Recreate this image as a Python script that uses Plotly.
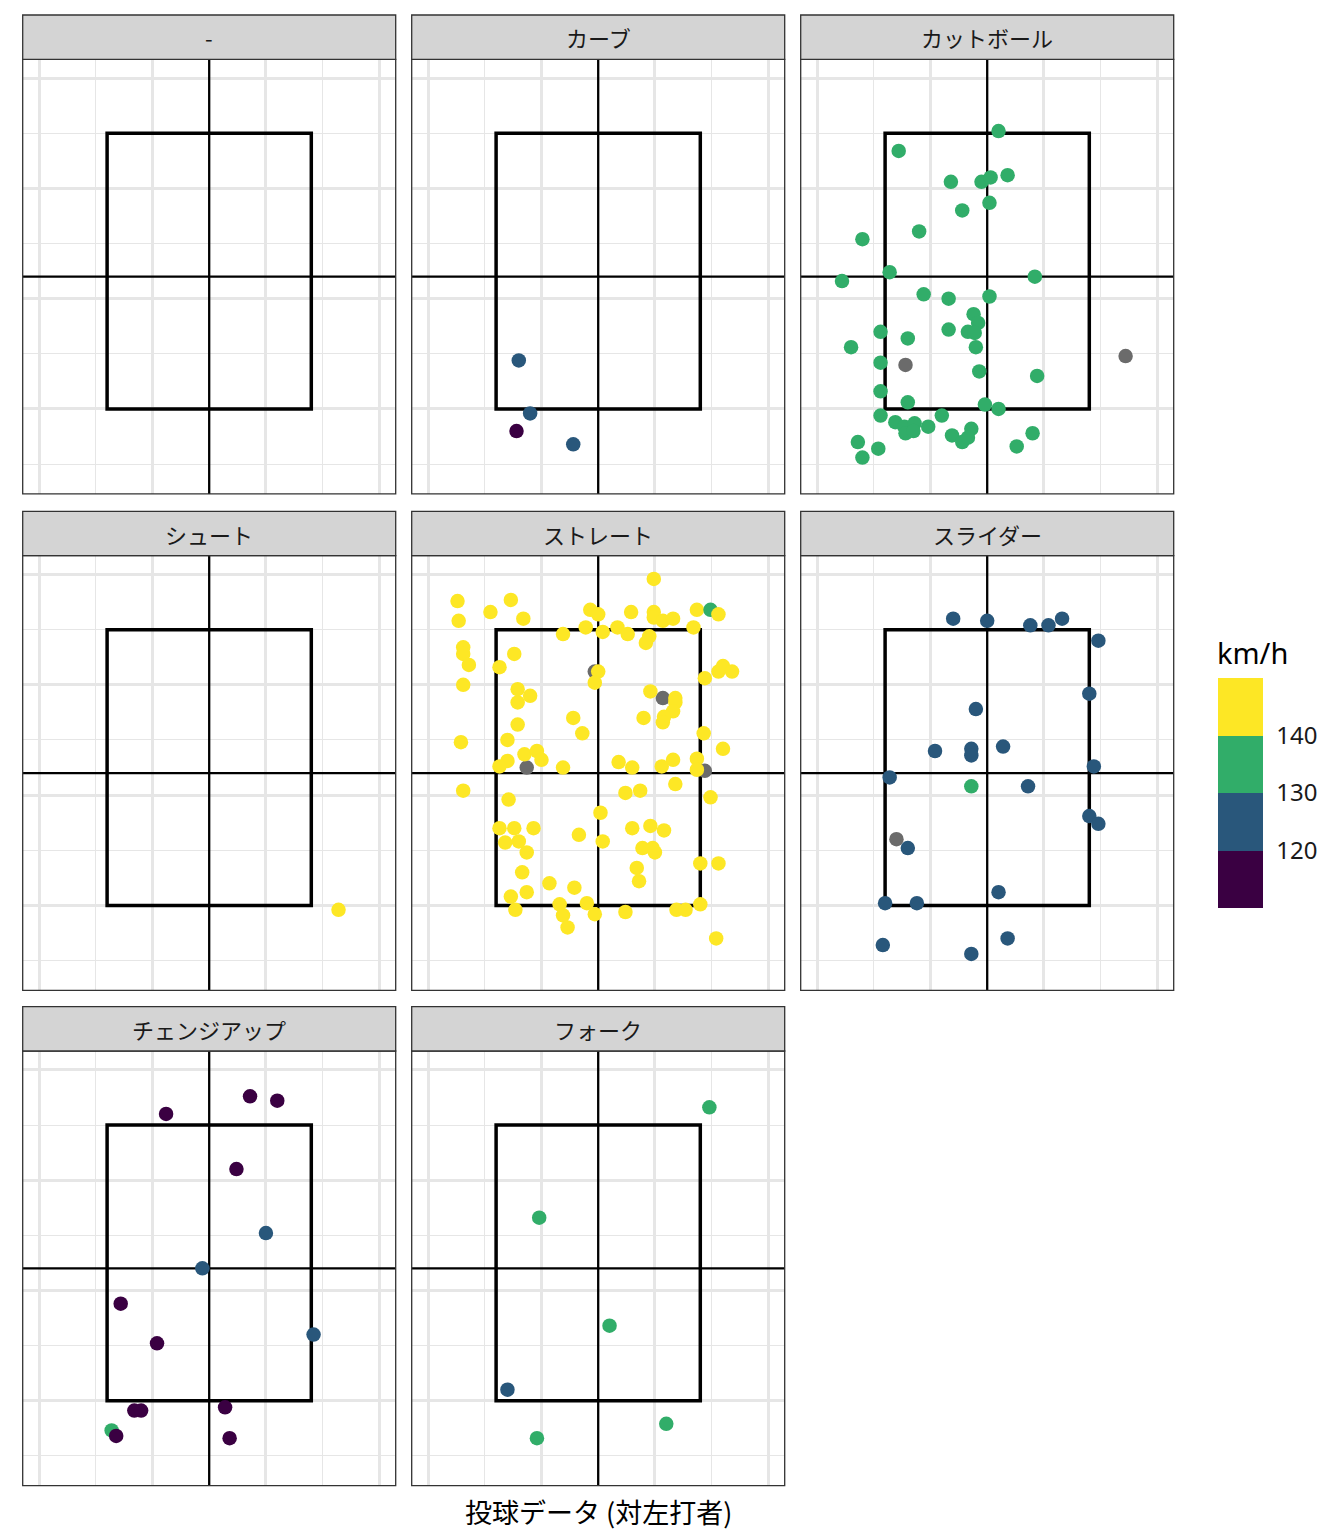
import plotly.graph_objects as go

# ---------------- data ----------------
PITCH_TYPES = ["-", "カーブ", "カットボール", "シュート", "ストレート", "スライダー", "チェンジアップ", "フォーク"]

# km/h values (None = missing speed, drawn grey)
DASH_X, DASH_Y, DASH_KMH = [], [], []

CURVE_X = [-0.70, -0.60, -0.72, -0.22]
CURVE_Y = [1.44, 0.96, 0.80, 0.68]
CURVE_KMH = [125, 125, 115, 125]

CUTTER_X = [0.10, -0.78, -0.32, -0.05, 0.03, 0.18, 0.02, -0.22, -0.60, -1.10,
            -0.86, -1.28, 0.42, -0.56, -0.34, 0.02, -0.12, -0.08, -0.17, -0.11,
            -0.34, -0.10, -0.94, -0.70, -1.20, -0.94, -0.07, 0.44, -0.94, -0.70,
            -0.02, 0.10, -0.94, -0.40, -0.81, -0.73, -0.64, -0.72, -0.65, -0.52,
            -0.31, -0.14, -0.22, -0.17, 0.40, 0.26, -1.14, -0.96, -1.10,
            -0.72, 1.22]
CUTTER_Y = [3.52, 3.34, 3.06, 3.06, 3.10, 3.12, 2.87, 2.80, 2.61, 2.54,
            2.24, 2.16, 2.20, 2.04, 2.00, 2.02, 1.86, 1.78, 1.70, 1.69,
            1.72, 1.56, 1.70, 1.64, 1.56, 1.42, 1.34, 1.30, 1.16, 1.06,
            1.04, 1.00, 0.94, 0.94, 0.88, 0.84, 0.87, 0.78, 0.80, 0.84,
            0.76, 0.82, 0.70, 0.74, 0.78, 0.66, 0.70, 0.64, 0.56,
            1.40, 1.48]
CUTTER_KMH = [135] * 49 + [None, None]

SHOOT_X = [1.14]
SHOOT_Y = [0.96]
SHOOT_KMH = [145]

STRAIGHT_X = [0.49, -1.24, -0.77, -1.23, -0.95, -0.66, -0.07, 0.00, 0.29, 0.49,
              0.49, 0.57, 0.66, 0.87, 0.99, 1.06, 0.84, -0.11, 0.04, 0.17,
              0.26, -0.31, 0.45, 0.42, -1.19, -1.19, -1.14, -0.74, -0.87, -1.19,
              -0.03, 0.00, -0.03, 0.94, 1.06, 1.10, 1.18, -0.71, -0.60, -0.71,
              0.46, 0.57, 0.68, 0.68, 0.66, 0.58, 0.57, 0.40, -0.22, -0.14,
              -0.71, -0.80, -1.21, 0.93, 1.10, -0.65, -0.54, -0.50, -0.80, -0.87,
              -0.63, -0.31, 0.18, 0.30, 0.56, 0.66, 0.87, 0.87, 0.94, -1.19,
              -0.79, 0.24, 0.37, 0.68, 0.99, 0.02, -0.87, -0.74, -0.57, -0.82,
              -0.70, -0.63, -0.17, 0.04, 0.30, 0.46, 0.58, 0.39, 0.48, 0.50,
              0.34, 0.36, 0.90, 1.06, -0.67, -0.43, -0.21, -0.63, -0.77, -0.73,
              -0.34, -0.31, -0.27, -0.10, -0.03, 0.24, 0.69, 0.77, 0.90, 1.04]
STRAIGHT_Y = [3.96, 3.76, 3.77, 3.58, 3.66, 3.60, 3.68, 3.64, 3.66, 3.66,
              3.61, 3.58, 3.60, 3.68, 3.68, 3.64, 3.52, 3.52, 3.48, 3.52,
              3.46, 3.46, 3.44, 3.38, 3.34, 3.28, 3.18, 3.28, 3.16, 3.00,
              3.12, 3.12, 3.02, 3.06, 3.12, 3.17, 3.12, 2.96, 2.90, 2.84,
              2.94, 2.88, 2.88, 2.84, 2.76, 2.71, 2.66, 2.70, 2.70, 2.56,
              2.64, 2.50, 2.48, 2.56, 2.42, 2.37, 2.40, 2.32, 2.31, 2.26,
              2.25, 2.25, 2.30, 2.25, 2.26, 2.32, 2.33, 2.23, 2.22, 2.04,
              1.96, 2.02, 2.04, 2.10, 1.98, 1.84, 1.70, 1.70, 1.70, 1.57,
              1.58, 1.48, 1.64, 1.58, 1.70, 1.72, 1.68, 1.52, 1.52, 1.48,
              1.34, 1.22, 1.38, 1.38, 1.30, 1.20, 1.16, 1.12, 1.08, 0.96,
              1.01, 0.91, 0.80, 1.02, 0.92, 0.94, 0.96, 0.96, 1.01, 0.70]
STRAIGHT_KMH = [145] * 14 + [135] + [145] * 15 + [None] + [145] * 10 + [None] + [145] * 18 + [None] \
    + [145] * 7 + [None] + [145] * 41

SLIDER_X = [-0.30, 0.00, 0.38, 0.54, 0.66, 0.98, 0.90, -0.10, -0.46, -0.14,
            -0.14, 0.14, 0.94, -0.86, 0.36, 0.90, 0.98, -0.70, 0.10, -0.90,
            -0.62, -0.92, 0.18, -0.14, -0.14, -0.80]
SLIDER_Y = [3.60, 3.58, 3.54, 3.54, 3.60, 3.40, 2.92, 2.78, 2.40, 2.42,
            2.36, 2.44, 2.26, 2.16, 2.08, 1.81, 1.74, 1.52, 1.12, 1.02,
            1.02, 0.64, 0.70, 0.56, 2.08, 1.60]
SLIDER_KMH = [125] * 24 + [135, None]

CHANGEUP_X = [-0.38, 0.36, 0.60, 0.24, 0.50, -0.06, -0.78, -0.46, 0.92, -0.66,
              -0.60, 0.14, -0.86, -0.82, 0.18]
CHANGEUP_Y = [3.60, 3.76, 3.72, 3.10, 2.52, 2.20, 1.88, 1.52, 1.60, 0.91,
              0.91, 0.94, 0.73, 0.68, 0.66]
CHANGEUP_KMH = [115, 115, 115, 115, 125, 125, 115, 115, 125, 115,
                115, 115, 135, 115, 115]

FORK_X = [0.98, -0.52, 0.10, -0.80, -0.54, 0.60]
FORK_Y = [3.66, 2.66, 1.68, 1.10, 0.66, 0.79]
FORK_KMH = [135, 135, 135, 125, 135, 135]

PANEL_X = [DASH_X, CURVE_X, CUTTER_X, SHOOT_X, STRAIGHT_X, SLIDER_X, CHANGEUP_X, FORK_X]
PANEL_Y = [DASH_Y, CURVE_Y, CUTTER_Y, SHOOT_Y, STRAIGHT_Y, SLIDER_Y, CHANGEUP_Y, FORK_Y]
PANEL_KMH = [DASH_KMH, CURVE_KMH, CUTTER_KMH, SHOOT_KMH, STRAIGHT_KMH, SLIDER_KMH, CHANGEUP_KMH, FORK_KMH]

SPEED_BREAKS = [120, 130, 140]
SPEED_RANGE = [110, 150]

# reference geometry (data units)
ZONE_X = [-0.9, 0.9]
ZONE_Y = [1.0, 3.5]
CENTER_X = 0.0
CENTER_Y = 2.2
X_RANGE = [-1.644, 1.644]
Y_RANGE = [0.230, 4.171]
X_MAJOR = [-1.5, -0.5, 0.5, 1.5]
X_MINOR = [-1.0, 0.0, 1.0]
Y_MAJOR = [1, 2, 3, 4]
Y_MINOR = [0.5, 1.5, 2.5, 3.5]

# ---------------- style / layout ----------------
W, H = 1344, 1536
PANEL_LEFT = [22.7, 411.7, 800.7]
PANEL_TOP = [59.3, 555.7, 1051.0]
PANEL_W = 373.0
PANEL_H = 434.6
STRIP_H = 44.3

PURPLE, BLUE, GREEN, YELLOW = "#3A0042", "#29577B", "#31AD69", "#FDE725"
NA_COLOR = "#6B6B6B"
COLORSCALE = [[0, PURPLE], [0.25, PURPLE], [0.25, BLUE], [0.5, BLUE],
              [0.5, GREEN], [0.75, GREEN], [0.75, YELLOW], [1, YELLOW]]
GRID = "#E6E6E6"
JP_FONT = "Noto Sans CJK JP"

fig = go.Figure()
shapes = []
annotations = []
layout = {}

for i, name in enumerate(PITCH_TYPES):
    r, c = divmod(i, 3)
    n = i + 1
    xa = "x" if n == 1 else f"x{n}"
    ya = "y" if n == 1 else f"y{n}"
    xkey = "xaxis" if n == 1 else f"xaxis{n}"
    ykey = "yaxis" if n == 1 else f"yaxis{n}"
    left = PANEL_LEFT[c]
    top = PANEL_TOP[r]
    dx = [left / W, (left + PANEL_W) / W]
    dy = [1 - (top + PANEL_H) / H, 1 - top / H]

    common = dict(showticklabels=False, ticks="", zeroline=False, showline=False,
                  showgrid=True, gridcolor=GRID, gridwidth=2.5, fixedrange=True)
    layout[xkey] = dict(domain=dx, range=X_RANGE, anchor=ya, tickmode="array", tickvals=X_MAJOR,
                        minor=dict(tickmode="array", tickvals=X_MINOR, showgrid=True,
                                   gridcolor=GRID, gridwidth=1.3, ticks=""), **common)
    layout[ykey] = dict(domain=dy, range=Y_RANGE, anchor=xa, tickmode="array", tickvals=Y_MAJOR,
                        minor=dict(tickmode="array", tickvals=Y_MINOR, showgrid=True,
                                   gridcolor=GRID, gridwidth=1.3, ticks=""), **common)

    xs, ys, ks = PANEL_X[i], PANEL_Y[i], PANEL_KMH[i]
    na_x = [x for x, k in zip(xs, ks) if k is None]
    na_y = [y for y, k in zip(ys, ks) if k is None]
    ok_x = [x for x, k in zip(xs, ks) if k is not None]
    ok_y = [y for y, k in zip(ys, ks) if k is not None]
    ok_k = [k for k in ks if k is not None]

    fig.add_trace(go.Scatter(x=na_x, y=na_y, mode="markers", xaxis=xa, yaxis=ya,
                             marker=dict(size=14.5, color=NA_COLOR, line=dict(width=0)),
                             showlegend=False, hoverinfo="skip"))
    marker = dict(size=14.5, color=ok_k, colorscale=COLORSCALE, cmin=SPEED_RANGE[0],
                  cmax=SPEED_RANGE[1], line=dict(width=0), showscale=False)
    if name == "ストレート":
        marker["showscale"] = True
        marker["colorbar"] = dict(
            x=1218 / W, xanchor="left", y=1 - 678 / H, yanchor="top",
            len=230, lenmode="pixels", thickness=45, thicknessmode="pixels",
            xpad=0, ypad=0, outlinewidth=0, tickmode="array", tickvals=SPEED_BREAKS,
            ticks="outside", ticklen=9, tickcolor="rgba(0,0,0,0)",
            tickfont=dict(size=24, family="Noto Sans", color="#1A1A1A"))
    fig.add_trace(go.Scatter(x=ok_x, y=ok_y, mode="markers", xaxis=xa, yaxis=ya,
                             marker=marker, showlegend=False, hoverinfo="skip"))

    # strike zone and centre lines
    shapes.append(dict(type="rect", xref=xa, yref=ya, x0=ZONE_X[0], x1=ZONE_X[1],
                       y0=ZONE_Y[0], y1=ZONE_Y[1], line=dict(color="black", width=3.5),
                       layer="between"))
    shapes.append(dict(type="line", xref=xa, yref=ya, x0=CENTER_X, x1=CENTER_X,
                       y0=Y_RANGE[0], y1=Y_RANGE[1], line=dict(color="black", width=2.3),
                       layer="between"))
    shapes.append(dict(type="line", xref=xa, yref=ya, x0=X_RANGE[0], x1=X_RANGE[1],
                       y0=CENTER_Y, y1=CENTER_Y, line=dict(color="black", width=2.3),
                       layer="between"))
    # panel border
    shapes.append(dict(type="rect", xref="paper", yref="paper", x0=dx[0], x1=dx[1],
                       y0=dy[0], y1=dy[1], line=dict(color="#333333", width=1.3), layer="above"))
    # strip
    s_top = top - STRIP_H
    shapes.append(dict(type="rect", xref="paper", yref="paper", x0=dx[0], x1=dx[1],
                       y0=1 - top / H, y1=1 - s_top / H, fillcolor="#D4D4D4",
                       line=dict(color="#333333", width=1.3), layer="above"))
    annotations.append(dict(text=name, xref="paper", yref="paper",
                            x=(dx[0] + dx[1]) / 2, y=1 - (s_top + STRIP_H / 2) / H,
                            xanchor="center", yanchor="middle", showarrow=False,
                            font=dict(size=22, family=JP_FONT, color="#1A1A1A")))

# axis title (bottom)
annotations.append(dict(text="投球データ (対左打者)", xref="paper", yref="paper",
                        x=(PANEL_LEFT[0] + PANEL_LEFT[2] + PANEL_W) / 2 / W, y=1 - 1511 / H,
                        xanchor="center", yanchor="middle", showarrow=False,
                        font=dict(size=27, family=JP_FONT, color="black")))
# legend title
annotations.append(dict(text="km/h", xref="paper", yref="paper", x=1215 / W, y=1 - 652 / H,
                        xanchor="left", yanchor="middle", showarrow=False,
                        font=dict(size=29, family="Noto Sans", color="black")))

fig.update_layout(width=W, height=H, margin=dict(l=0, r=0, t=0, b=0),
                  paper_bgcolor="white", plot_bgcolor="white",
                  shapes=shapes, annotations=annotations, showlegend=False, **layout)

fig.write_html("out.html", config={"displayModeBar": False},
               post_script="document.body.style.margin='0px';")
